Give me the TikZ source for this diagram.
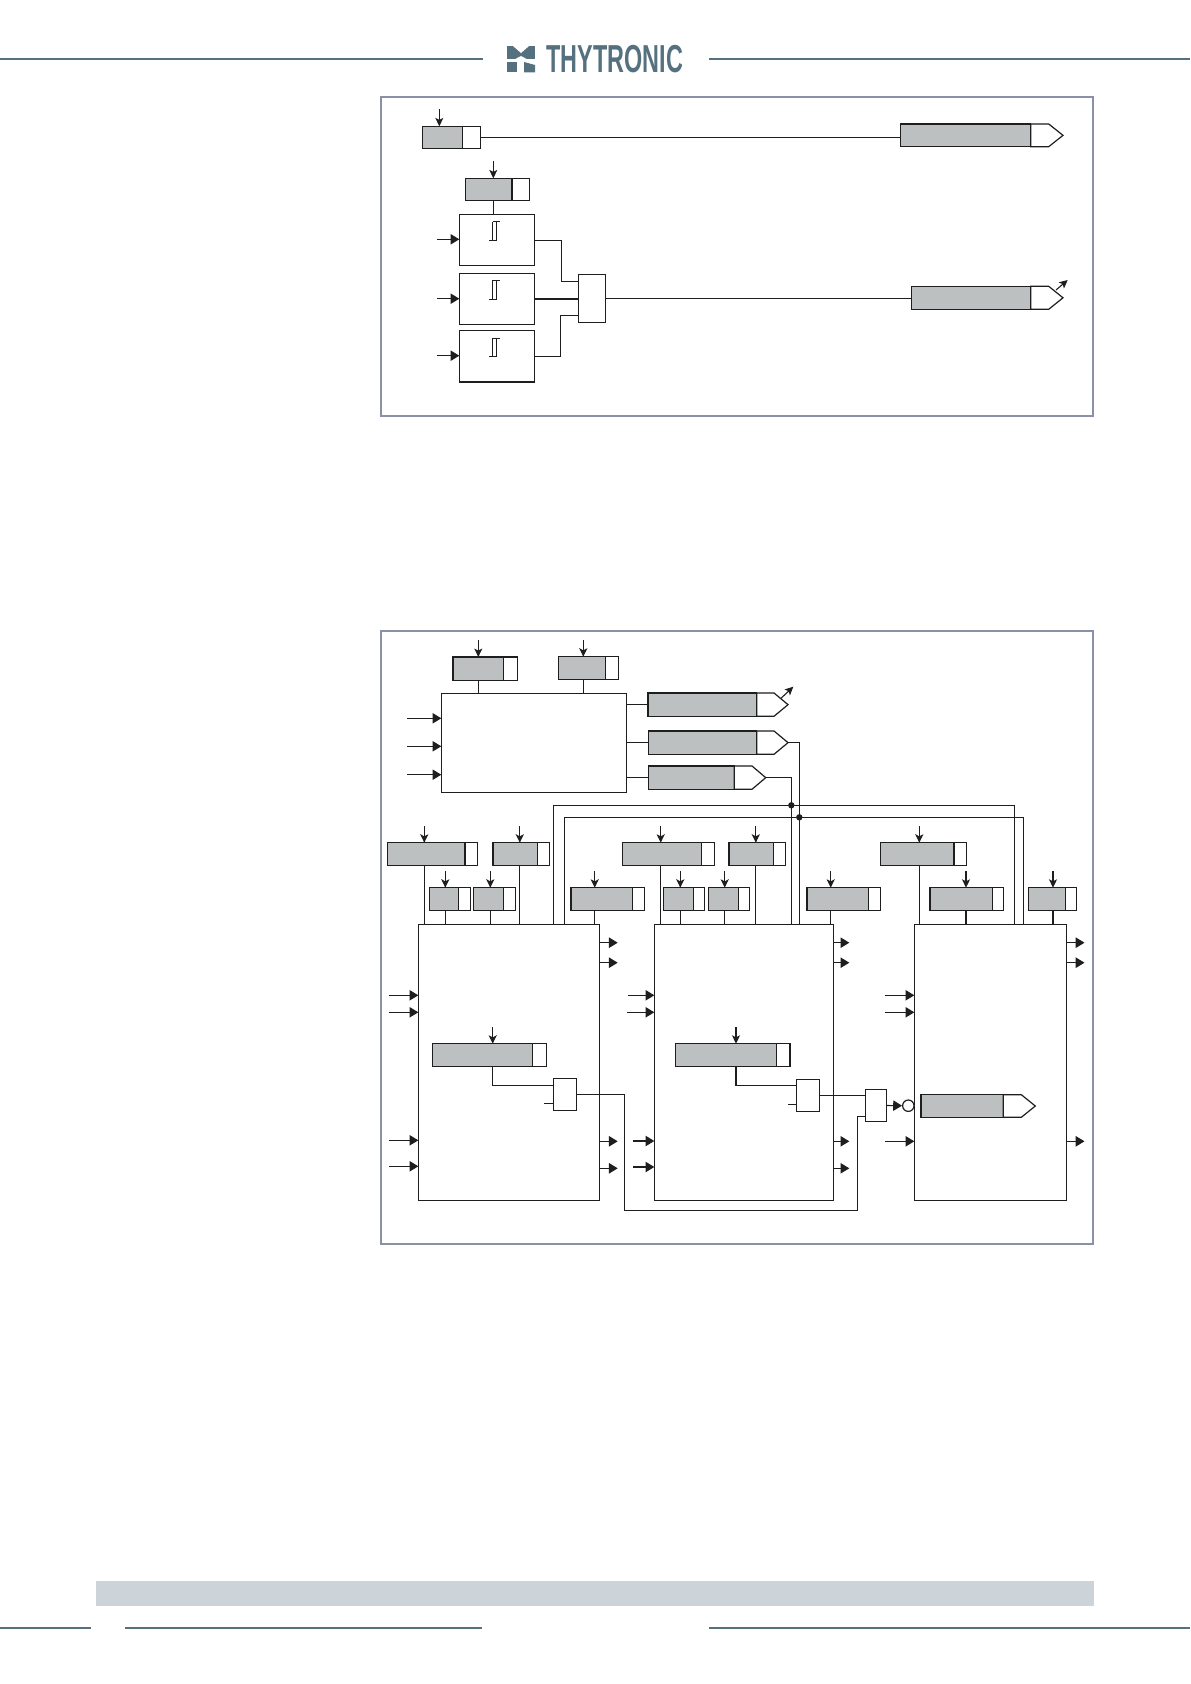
\documentclass[tikz,border=0pt]{standalone}
\usepackage{fontspec}
\usepackage{graphicx}
\setmainfont{Liberation Sans}
\usetikzlibrary{arrows.meta}
\definecolor{framec}{HTML}{8A90A6}
\definecolor{headc}{HTML}{55707F}
\definecolor{barc}{HTML}{CCD4DA}
\definecolor{cellc}{HTML}{BCC0C0}
\definecolor{inkc}{HTML}{1E1E1E}
\tikzset{
  conn/.style={draw=inkc,line width=0.55pt},
  smallarrow/.style={conn,-{Stealth[length=4.2pt,width=4pt,inset=1pt]}},
  bigarrow/.style={conn,-{Triangle[length=4.4pt,width=5.2pt]}},
  blockbox/.style={draw=inkc,line width=0.6pt,fill=white,inner sep=0pt,outer sep=0pt},
  whitecell/.style={draw=inkc,line width=0.6pt,fill=white,inner sep=0pt,outer sep=0pt},
  graycell/.style={draw=inkc,line width=0.7pt,fill=cellc,inner sep=0pt,outer sep=0pt},
  framebox/.style={draw=framec,line width=1.1pt,inner sep=0pt,outer sep=0pt},
  rule/.style={draw=headc,line width=0.95pt},
  jointdot/.style={circle,fill=inkc,inner sep=0pt,minimum size=3.2pt},
  notcircle/.style={circle,draw=inkc,line width=0.6pt,fill=white,inner sep=0pt,minimum size=5.7pt}
}
% name, style, x1, y1, x2, y2
\newcommand\rectnode[6]{%
  \pgfmathsetmacro\rectw{(#5-#3)*0.5}%
  \pgfmathsetmacro\recth{(#6-#4)*0.5}%
  \node[#2,minimum width=\rectw pt,minimum height=\recth pt,anchor=north west] (#1) at (#3,#4) {};}
% name, x1, divider, x3, y1, y2, arrow x, arrow top
\newcommand\setcell[8]{%
  \rectnode{#1w}{whitecell}{#2}{#5}{#4}{#6}%
  \rectnode{#1}{graycell}{#2}{#5}{#3}{#6}%
  \coordinate (#1in) at (#7,#8);
  \draw[smallarrow] (#1in) -- (#1in |- #1.north);}
\newcommand\stem[2]{\draw[conn] (#1in |- #1.south) -- (#1in |- #2.north);}
% name, x1, divider, shoulder, tip, y1, y2
\newcommand\settag[7]{%
  \pgfmathsetmacro\tagmid{(#6+#7)/2}%
  \rectnode{#1}{graycell}{#2}{#6}{#3}{#7}%
  \coordinate (#1tip) at (#5,\tagmid);
  \draw[whitecell] (#1.north east) -- (#4,#6) -- (#1tip) -- (#4,#7) -- (#1.south east) -- cycle;}
% input arrow: start x, y, block
\newcommand\inarrow[3]{\coordinate (in#3) at (#1,#2); \draw[bigarrow] (in#3) -- (in#3 -| #3.west);}
\newcommand\outarrow[3]{\coordinate (out#3) at (#1,#2); \draw[bigarrow] (out#3 -| #3.east) -- (out#3);}
\newcommand\hyst[1]{%
  \draw[conn,line width=0.4pt] (489.3,#1+18.6) -- (496.7,#1+18.6) (492.7,#1+18.6) -- (492.7,#1) (496.7,#1+18.6) -- (496.7,#1) (492.7,#1) -- (500,#1);}
\begin{document}
\begin{tikzpicture}[x=0.5pt,y=-0.5pt]
\useasboundingbox (0,0) rectangle (1190,1684);
\fill[white] (0,0) rectangle (1190,1684);
% header
\coordinate (hl0) at (0,59); \coordinate (hl1) at (483,59);
\coordinate (hr0) at (709,59); \coordinate (hr1) at (1190,59);
\draw[rule] (hl0) -- (hl1) (hr0) -- (hr1);
\fill[headc] (507,46) -- (535,46) -- (535,59) -- (507,59) -- cycle;
\fill[white] (513,46) -- (529,46) -- (521,53) -- cycle;
\fill[white] (515,59.2) -- (521,56) -- (527,59.2) -- cycle;
\fill[headc] (507,62) -- (517,62) -- (517,72.5) -- (507,72.5) -- cycle;
\fill[headc] (524,62) -- (535,65) -- (535,72.5) -- (524,72.5) -- cycle;
\node[inner sep=0pt,anchor=west,text=headc,font=\fontsize{19.5}{20}\selectfont\bfseries] (logo) at (546,59.5) {\scalebox{0.6}[1]{THYTRONIC}};
% footer
\coordinate (f0) at (0,1628); \coordinate (f1) at (91,1628); \coordinate (f2) at (125,1628);
\coordinate (f3) at (482,1628); \coordinate (f4) at (709,1628); \coordinate (f5) at (1190,1628);
\draw[rule] (f0) -- (f1) (f2) -- (f3) (f4) -- (f5);
\fill[barc] (96,1581) rectangle (1094,1606);
% ---------- upper frame
\rectnode{frameA}{framebox}{381}{97}{1093}{415.7}
\setcell{K}{422.3}{462.3}{480.3}{126.3}{148.7}{439.3}{109}
\settag{TU}{900.3}{1030.7}{1048.7}{1063}{124}{146.7}
\draw[conn] (Kw.east) -- (Kw.east -| TU.west);
\setcell{P}{465.3}{512}{529.7}{178.3}{200.7}{493.3}{161}
\rectnode{A}{blockbox}{459.3}{214.3}{534.3}{265.3}
\rectnode{B}{blockbox}{459.3}{273.3}{534.3}{324.7}
\rectnode{C}{blockbox}{459.3}{330.7}{534.3}{382}
\stem{P}{A}
\hyst{221.7} \hyst{280.5} \hyst{338.2}
\inarrow{437}{239.3}{A}
\inarrow{437}{298.7}{B}
\inarrow{437}{355.7}{C}
\rectnode{OR}{blockbox}{578.3}{274.3}{605.7}{322.3}
\coordinate (ca) at (534.3,240.3); \coordinate (cam) at (561.3,240.3); \coordinate (cae) at (578.3,281.7);
\coordinate (cc) at (534.3,356.3); \coordinate (ccm) at (560.3,356.3); \coordinate (cce) at (578.3,315.3);
\draw[conn] (ca) -- (cam) -- (cam |- cae) -- (cae);
\draw[conn] (B.east) -- (B.east -| OR.west);
\draw[conn] (cc) -- (ccm) -- (ccm |- cce) -- (cce);
\settag{TV}{911.3}{1030.7}{1048.7}{1063}{286.3}{309.3}
\draw[conn] (OR.east) -- (OR.east -| TV.west);
\coordinate (va0) at (1056,290); \coordinate (va1) at (1067.7,280);
\draw[smallarrow] (va0) -- (va1);
% ---------- lower frame
\rectnode{frameB}{framebox}{381}{630.7}{1093}{1244}
\rectnode{M}{blockbox}{441.3}{693.3}{626.7}{792.3}
\setcell{T1}{453}{503.3}{517.3}{657}{680.3}{478.3}{640}
\setcell{T2}{558.3}{605.3}{618.3}{656.7}{679.7}{583.3}{640}
\stem{T1}{M} \stem{T2}{M}
\inarrow{407}{718.3}{M}
\inarrow{407}{746.3}{M}
\inarrow{407}{774.7}{M}
\settag{TA}{648}{756.7}{774}{788}{693}{716.3}
\settag{TB}{648.3}{756.7}{774}{788}{731}{754.3}
\settag{TC}{648.3}{734.3}{752}{765.7}{766}{789.3}
\foreach \t in {TA,TB,TC} {\draw[conn] (\t.west -| M.east) -- (\t.west);}
\coordinate (vb0) at (781,698.3); \coordinate (vb1) at (793.3,686.7);
\draw[smallarrow] (vb0) -- (vb1);
% lower blocks
\rectnode{L1}{blockbox}{418.3}{924.3}{599.7}{1200.3}
\rectnode{L2}{blockbox}{654.3}{924.3}{833.7}{1200.3}
\rectnode{L3}{blockbox}{914.3}{924.3}{1066.7}{1200.3}
% first row of cells
\setcell{RA}{387.3}{465}{477.3}{842.7}{865.7}{424.3}{826}
\setcell{RB}{493}{537.3}{549.3}{842.7}{865.7}{519.8}{826}
\setcell{RC}{622.3}{701.7}{714.3}{842.7}{865.7}{660.7}{826}
\setcell{RD}{729}{773.3}{785.3}{842.7}{865.7}{755.8}{826}
\setcell{RE}{880.7}{954}{966.7}{842.7}{865.7}{919.3}{826}
% second row of cells
\setcell{SA}{429.3}{458.7}{470.3}{887.7}{910.7}{445.3}{871}
\setcell{SB}{473.3}{503.7}{515.3}{887.7}{910.7}{490.3}{871}
\setcell{SC}{571}{632.3}{644.3}{887.7}{910.7}{594.7}{871}
\setcell{SD}{663.7}{693.3}{704.7}{887.7}{910.7}{680.3}{871}
\setcell{SE}{708.3}{738.3}{749.7}{887.7}{910.7}{724.7}{871}
\setcell{SF}{807}{868.3}{880.3}{887.7}{910.7}{830.7}{871}
\setcell{SG}{930}{992.7}{1003.3}{887.7}{910.7}{966}{871}
\setcell{SH}{1028.7}{1065.3}{1076.3}{887.7}{910.7}{1053}{871}
\stem{RA}{L1} \stem{RB}{L1} \stem{SA}{L1} \stem{SB}{L1}
\stem{RC}{L2} \stem{RD}{L2} \stem{SC}{L1} \stem{SD}{L2} \stem{SE}{L2} \stem{SF}{L2}
\stem{RE}{L3} \stem{SG}{L3} \stem{SH}{L3}
% buses and tag lines
\coordinate (busAl) at (553.3,805.3); \coordinate (busAr) at (1014.3,805.3);
\coordinate (busBl) at (564.3,817.3); \coordinate (busBr) at (1023.3,817.3);
\draw[conn] (busAl |- L1.north) -- (busAl) -- (busAr) -- (busAr |- L3.north);
\draw[conn] (busBl |- L1.north) -- (busBl) -- (busBr) -- (busBr |- L3.north);
\coordinate (vtb) at (799.3,817.3); \coordinate (vtc) at (791.3,805.3);
\draw[conn] (TBtip) -- (TBtip -| vtb) -- (vtb |- L2.north);
\draw[conn] (TCtip) -- (TCtip -| vtc) -- (vtc |- L2.north);
\node[jointdot] (dotA) at (vtc) {};
\node[jointdot] (dotB) at (vtb) {};
% inputs
\inarrow{389}{995.3}{L1} \inarrow{389}{1012.3}{L1} \inarrow{389}{1140.3}{L1} \inarrow{389}{1166.3}{L1}
\inarrow{628}{995.3}{L2} \inarrow{627}{1012.3}{L2} \inarrow{633}{1141}{L2} \inarrow{633}{1167}{L2}
\inarrow{885}{995.3}{L3} \inarrow{885}{1012.3}{L3} \inarrow{885}{1141.3}{L3}
% outputs
\outarrow{617.7}{942.7}{L1} \outarrow{617.7}{962.7}{L1} \outarrow{617.7}{1141.3}{L1} \outarrow{617.7}{1168.3}{L1}
\outarrow{849.3}{942.7}{L2} \outarrow{849.3}{962.7}{L2} \outarrow{849.3}{1141.3}{L2} \outarrow{849.3}{1168.3}{L2}
\outarrow{1084.5}{942.7}{L3} \outarrow{1084.5}{962.7}{L3} \outarrow{1084.5}{1141.3}{L3}
% inner cells and gates
\setcell{IA}{432.3}{532.3}{546.3}{1043.7}{1066.7}{492.7}{1027}
\setcell{IB}{675.3}{776.3}{790}{1043.7}{1066.7}{736}{1027}
\rectnode{G1}{blockbox}{553.3}{1078.3}{576.7}{1110.7}
\rectnode{G2}{blockbox}{796.3}{1079.3}{819.3}{1111.3}
\rectnode{G3}{blockbox}{865.3}{1089.3}{886.7}{1121.7}
\coordinate (ga) at (492.7,1085.3); \coordinate (gb) at (736,1085.3);
\draw[conn] (IAin |- IA.south) -- (ga) -- (ga -| G1.west);
\draw[conn] (IBin |- IB.south) -- (gb) -- (gb -| G2.west);
\coordinate (sa) at (544,1103.3); \coordinate (sb) at (788,1104.3);
\draw[conn] (sa) -- (sa -| G1.west);
\draw[conn] (sb) -- (sb -| G2.west);
\coordinate (v1) at (624.7,1210.3); \coordinate (v2) at (857.3,1210.3); \coordinate (v3) at (857.3,1116.3);
\draw[conn] (G1.east) -- (G1.east -| v1) -- (v1) -- (v2) -- (v3) -- (v3 -| G3.west);
\draw[conn] (G2.east) -- (G2.east -| G3.west);
\node[notcircle] (NOTC) at (908.3,1105.7) {};
\draw[bigarrow] (G3.east) -- (NOTC.west);
\settag{TD}{921}{1003.3}{1021.3}{1035.3}{1094.7}{1117.3}
\end{tikzpicture}
\end{document}
